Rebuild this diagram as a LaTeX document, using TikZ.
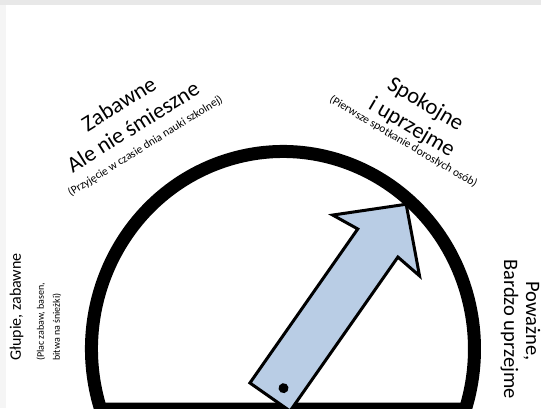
\documentclass[tikz,border=0pt]{standalone}
\usepackage{fontspec}
\setmainfont{Carlito}
\usepackage{tikz}
\definecolor{azulaguja}{HTML}{B9CDE5}
\newcommand{\chico}{\fontsize{11.5}{13}\selectfont}
\newcommand{\drobne}{\fontsize{10}{12}\selectfont}
\tikzset{
    escala/.style={
        draw=black,
        line width=13pt
    },
    aguja/.style={
        draw=black,
        line width=3pt,
        fill=azulaguja
    },
    etiqueta/.style={
        inner sep=0pt,
        align=center,
        font=\fontsize{22.5}{27}\selectfont
    }
}

\begin{document}
\begin{tikzpicture}[
    x=1pt,
    y=1pt
]
    \useasboundingbox (0,0) rectangle (541,408);

    % Marco
    \fill[gray!18] (0,402.5) rectangle (541,408);
    \fill[gray!8]  (0,0) rectangle (5.5,402.5);

    % Escala
    \coordinate (centro) at (283,59);
    \draw[escala] (centro) ++(197.7:191.5 and 197.5)
        arc[start angle=197.7, end angle=-17.7, x radius=191.5, y radius=197.5]
        -- cycle;

    % Aguja
    \begin{scope}[shift={(270,11)}, rotate=55]
        \draw[aguja] (0,-24.5) -- (188,-24.5) -- (185,-53) -- (236,-1)
            -- (185,53) -- (188,24.5) -- (0,24.5) -- cycle;
        \fill (15,-6) circle (5);
    \end{scope}

    % Textos
    \node[etiqueta, rotate=32] (zabawne) at (131.3,284.2)
        {Zabawne\\ Ale nie śmieszne\\[-8pt]
         {\chico (Przyjęcie w czasie dnia nauki szkolnej)}};
    \node[etiqueta, rotate=-30.5] (spokojne) at (415.5,286.7)
        {Spokojne\\ i uprzejme\\[-13.5pt]
         {\chico (Pierwsze spotkanie dorosłych osób)}};
    \node[etiqueta, rotate=90, anchor=north west, align=left,
          font=\fontsize{16}{19}\selectfont] (glupie) at (9.5,47)
        {Głupie, zabawne\\[4pt]
         {\drobne (Plac zabaw, basen,}\\[-3pt]
         {\drobne bitwa na śnieżki)}};
    \node[etiqueta, rotate=-90, font=\fontsize{20.5}{24}\selectfont]
        (powazne) at (520.5,79)
        {Poważne,\hspace*{16pt}\\[-2pt] Bardzo uprzejme};

\end{tikzpicture}
\end{document}
